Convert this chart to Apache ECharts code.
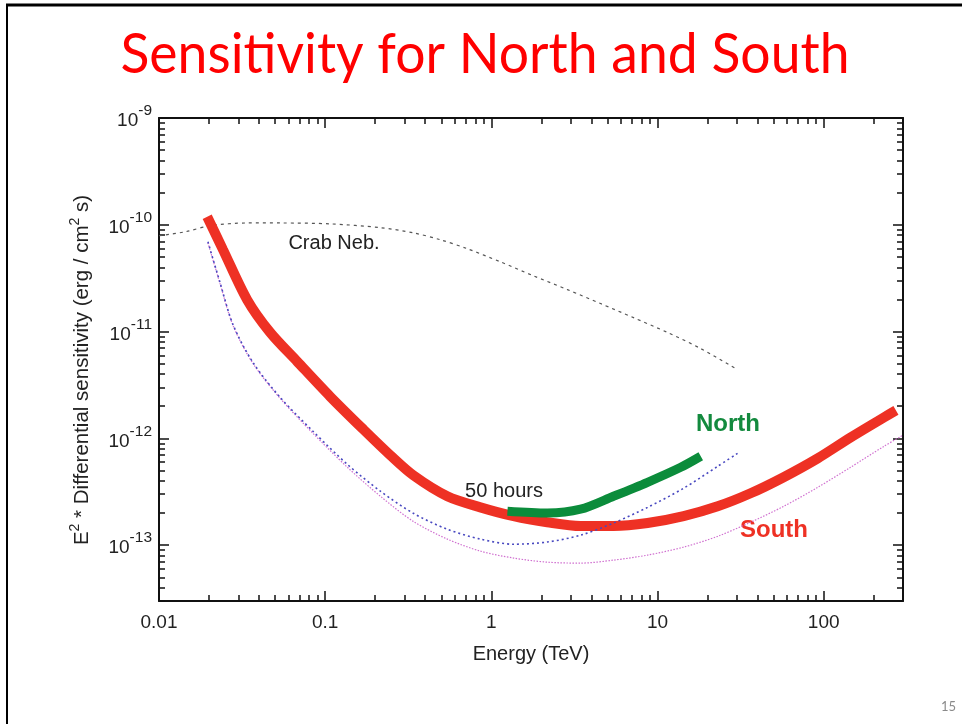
<!DOCTYPE html>
<html>
<head>
<meta charset="utf-8">
<script src="https://cdn.jsdelivr.net/npm/echarts@6/dist/echarts.min.js"></script>
<style>
  html, body { margin: 0; padding: 0; background: #fff; }
  #chart { width: 962px; height: 724px; }
</style>
</head>
<body>
<div id="chart"></div>
<script>
// [energy TeV, E^2 * sensitivity erg/cm2/s]
const crab = [
  [0.01, 7.9e-11], [0.0144, 8.6e-11], [0.0203, 9.8e-11], [0.0339, 1.04e-10],
  [0.0536, 1.04e-10], [0.107, 1.02e-10], [0.215, 9.4e-11], [0.339, 8.4e-11],
  [0.494, 7.24e-11], [0.716, 5.97e-11], [1.13, 4.51e-11], [1.79, 3.33e-11],
  [2.87, 2.47e-11], [4.54, 1.83e-11], [7.17, 1.35e-11], [11.5, 9.8e-12],
  [18.2, 6.93e-12], [29.5, 4.51e-12]
];
const south = [
  [0.0195, 1.19e-10], [0.0243, 5.83e-11], [0.0339, 1.99e-11], [0.0467, 9.8e-12],
  [0.0678, 5.25e-12], [0.107, 2.47e-12], [0.17, 1.21e-12], [0.247, 6.93e-13],
  [0.339, 4.51e-13], [0.543, 2.87e-13], [0.859, 2.26e-13], [1.36, 1.87e-13],
  [2.17, 1.64e-13], [3.44, 1.51e-13], [5.43, 1.51e-13], [8.71, 1.61e-13],
  [14.35, 1.87e-13], [23.0, 2.31e-13], [36.3, 3.06e-13], [57.4, 4.33e-13],
  [92.0, 6.5e-13], [145, 1.02e-12], [230, 1.57e-12], [272, 1.83e-12]
];
const north = [
  [1.25, 2.08e-13], [2.17, 2.0e-13], [3.44, 2.17e-13], [5.43, 2.87e-13],
  [8.71, 3.88e-13], [13.8, 5.36e-13], [18.2, 6.8e-13]
];
const northBlue = [
  [0.0197, 6.93e-11], [0.0233, 2.87e-11], [0.0279, 1.16e-11], [0.0368, 5.13e-12],
  [0.0536, 2.42e-12], [0.0847, 1.16e-12], [0.136, 5.71e-13], [0.215, 3.2e-13],
  [0.339, 1.99e-13], [0.543, 1.41e-13], [0.859, 1.14e-13], [1.36, 1.02e-13],
  [2.17, 1.07e-13], [3.44, 1.24e-13], [5.43, 1.61e-13], [8.71, 2.26e-13],
  [14.35, 3.41e-13], [23.0, 5.47e-13], [30.3, 7.24e-13]
];
const southPink = [
  [0.0197, 6.79e-11], [0.0233, 2.81e-11], [0.0279, 1.14e-11], [0.0368, 5.02e-12],
  [0.0536, 2.37e-12], [0.0847, 1.11e-12], [0.136, 5.36e-13], [0.215, 2.87e-13],
  [0.339, 1.67e-13], [0.543, 1.14e-13], [0.859, 8.79e-14], [1.36, 7.57e-14],
  [2.17, 6.93e-14], [3.44, 6.79e-14], [5.43, 7.24e-14], [8.71, 8.07e-14],
  [14.35, 9.58e-14], [23.0, 1.21e-13], [36.3, 1.64e-13], [57.4, 2.31e-13],
  [92.0, 3.48e-13], [145, 5.36e-13], [230, 8.41e-13], [300, 1.07e-12]
];

const xMajor = [0.01, 0.1, 1, 10, 100];
const yMajor = [1e-13, 1e-12, 1e-11, 1e-10, 1e-9];

function minorsOf(majors, lo, hi) {
  const out = [];
  [majors[0] / 10].concat(majors).forEach(m => {
    for (let k = 2; k <= 9; k++) {
      const v = Number((k * m).toPrecision(3));
      if (v >= lo && v <= hi) out.push(v);
    }
  });
  return out;
}
const xMinor = minorsOf(xMajor, 0.01, 300);
const yMinor = minorsOf(yMajor, 3e-14, 1e-9);

const FONT = '"Liberation Sans", Arial, sans-serif';
const TXT = '#222';

const chart = echarts.init(document.getElementById('chart'));

function xAxisDef(pos, ticks, len, withLabels, showLine) {
  return {
    type: 'log', logBase: 10, min: 0.01, max: 300, position: pos,
    axisLine: { show: showLine, lineStyle: { color: '#111', width: 2 } },
    axisTick: { inside: true, length: len, customValues: ticks, lineStyle: { color: '#111', width: 1.5 } },
    axisLabel: withLabels ? {
      customValues: xMajor, margin: 12, fontSize: 19, fontFamily: FONT, color: TXT,
      formatter: v => String(v)
    } : { show: false },
    splitLine: { show: false }
  };
}
function yAxisDef(pos, ticks, len, withLabels, showLine) {
  return {
    type: 'log', logBase: 10, min: 3e-14, max: 1e-9, position: pos,
    axisLine: { show: showLine, lineStyle: { color: '#111', width: 2 } },
    axisTick: { inside: true, length: len, customValues: ticks, lineStyle: { color: '#111', width: 1.5 } },
    axisLabel: withLabels ? {
      customValues: yMajor, margin: 7,
      formatter: v => '{b|10}{s|' + Math.round(Math.log10(v)) + '}',
      rich: {
        b: { fontSize: 19, fontFamily: FONT, color: TXT, padding: [6, 0, 0, 0] },
        s: { fontSize: 15.5, fontFamily: FONT, color: TXT, padding: [0, 0, 14, 0] }
      }
    } : { show: false },
    splitLine: { show: false }
  };
}

const xAxes = [
  xAxisDef('bottom', xMajor, 10, true, true),
  xAxisDef('bottom', xMinor, 6, false, false),
  xAxisDef('top', xMajor, 10, false, true),
  xAxisDef('top', xMinor, 6, false, false)
];
xAxes[0].name = 'Energy (TeV)';
xAxes[0].nameLocation = 'middle';
xAxes[0].nameGap = 43;
xAxes[0].nameTextStyle = { fontSize: 20, fontFamily: FONT, color: TXT };

const yAxes = [
  yAxisDef('left', yMajor, 10, true, true),
  yAxisDef('left', yMinor, 6, false, false),
  yAxisDef('right', yMajor, 10, false, true),
  yAxisDef('right', yMinor, 6, false, false)
];

function line(name, data, color, width, type, z) {
  return {
    name, type: 'line', data, smooth: 0.3, symbol: 'none', z,
    lineStyle: { color, width, type, cap: 'butt' }
  };
}

const titleText = 'Sensitivity for North and South';
const ctx = document.createElement('canvas').getContext('2d');
ctx.font = '56px Lato';
const titleScale = 729 / ctx.measureText(titleText).width;

chart.setOption({
  animation: false,
  backgroundColor: '#fff',
  grid: { left: 159, right: 59, top: 118, bottom: 123 },
  xAxis: xAxes,
  yAxis: yAxes,
  series: [
    line('Crab Neb.', crab, '#555', 1.2, [3, 4], 2),
    line('South', south, '#ee3124', 10, 'solid', 3),
    line('North', north, '#0b8c3b', 9, 'solid', 4),
    line('South 2', southPink, '#d070d0', 1.2, [1.5, 1.5], 5),
    line('North 2', northBlue, '#4848c0', 1.6, [2, 3], 5)
  ],
  graphic: [
    { type: 'line', shape: { x1: 6, y1: 5, x2: 962, y2: 5 }, style: { stroke: '#000', lineWidth: 3 } },
    { type: 'line', shape: { x1: 7, y1: 4, x2: 7, y2: 724 }, style: { stroke: '#000', lineWidth: 2 } },
    {
      type: 'text', x: 485, y: 55, scaleX: titleScale,
      style: { text: titleText, fontSize: 56, fontFamily: 'Lato', fill: '#ff0000', align: 'center', verticalAlign: 'middle' }
    },
    {
      type: 'text', x: 82, y: 370, rotation: Math.PI / 2,
      style: {
        text: 'E{s|2} * Differential sensitivity (erg / cm{s|2} s)',
        fontSize: 20.5, fontFamily: FONT, fill: TXT, align: 'center', verticalAlign: 'middle',
        rich: { s: { fontSize: 14, fontFamily: FONT, fill: TXT, padding: [0, 0, 14, 0] } }
      }
    },
    { type: 'text', x: 334, y: 243, style: { text: 'Crab Neb.', fontSize: 20, fontFamily: FONT, fill: TXT, align: 'center', verticalAlign: 'middle' } },
    { type: 'text', x: 504, y: 491, style: { text: '50 hours', fontSize: 20, fontFamily: FONT, fill: TXT, align: 'center', verticalAlign: 'middle' } },
    { type: 'text', x: 728, y: 424, style: { text: 'North', fontSize: 24, fontWeight: 'bold', fontFamily: FONT, fill: '#138a3e', align: 'center', verticalAlign: 'middle' } },
    { type: 'text', x: 774, y: 530, style: { text: 'South', fontSize: 24, fontWeight: 'bold', fontFamily: FONT, fill: '#ee3124', align: 'center', verticalAlign: 'middle' } },
    { type: 'text', x: 956, y: 707, style: { text: '15', fontSize: 13, fontFamily: 'Lato', fill: '#8a8a8a', align: 'right', verticalAlign: 'middle' } }
  ]
});
</script>
</body>
</html>
